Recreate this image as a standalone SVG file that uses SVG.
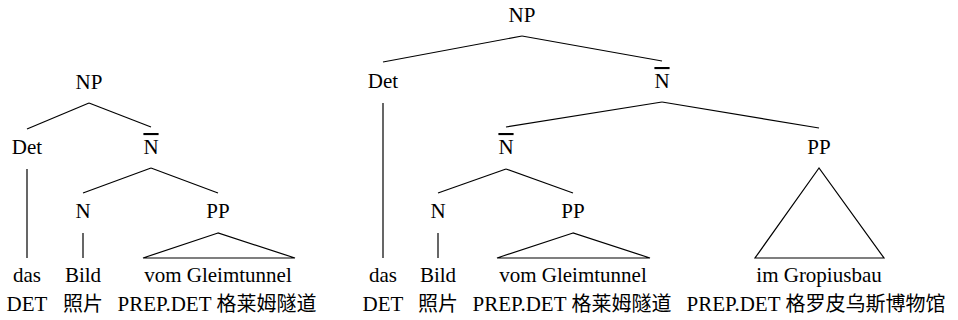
<svg xmlns="http://www.w3.org/2000/svg" width="958" height="320" viewBox="0 0 958 320">
<style>
text{font-family:"Liberation Serif","Times New Roman","DejaVu Serif",serif;font-size:21px;fill:#000;text-anchor:middle}
.cjk{font-family:"Noto Sans CJK SC","Noto Sans CJK JP",sans-serif;font-size:20px}
.bar{text-decoration:overline}
.e line,.e path{stroke:#000;stroke-width:1.2;fill:none}
</style>
<rect width="958" height="320" fill="#fff"/>
<g class="e" id="connectors">
<line x1="89" y1="103" x2="27" y2="129"/>
<line x1="89" y1="103" x2="151" y2="127"/>
<line x1="27" y1="169" x2="27" y2="258"/>
<line x1="151" y1="168" x2="83" y2="193"/>
<line x1="151" y1="168" x2="218" y2="193"/>
<line x1="83" y1="233" x2="83" y2="258"/>
<path d="M218 233 L143 258 L295 258 Z"/>
<line x1="522" y1="36" x2="383" y2="62"/>
<line x1="522" y1="36" x2="662" y2="61"/>
<line x1="383" y1="103" x2="383" y2="258"/>
<line x1="662" y1="102" x2="506" y2="127"/>
<line x1="662" y1="102" x2="819" y2="128"/>
<line x1="506" y1="169" x2="438" y2="193"/>
<line x1="506" y1="169" x2="573" y2="193"/>
<line x1="438" y1="233" x2="438" y2="258"/>
<path d="M573 233 L497 258 L650 258 Z"/>
<path d="M819 168 L755 258 L884 258 Z"/>
</g>
<g id="l-np"><text x="89" y="89">NP</text></g>
<g id="l-det"><text x="27" y="154">Det</text></g>
<g id="l-nbar"><text class="bar" x="151" y="154">N</text></g>
<g id="l-n"><text x="83" y="218">N</text></g>
<g id="l-pp"><text x="218" y="218">PP</text></g>
<g id="l-das"><text x="27" y="282">das</text><text x="27" y="311">DET</text></g>
<g id="l-bild"><text x="83" y="282">Bild</text><text class="cjk" x="83" y="311">照片</text></g>
<g id="l-vom"><text x="218" y="282">vom Gleimtunnel</text><text x="217" y="311">PREP.DET <tspan class="cjk">格莱姆隧道</tspan></text></g>
<g id="r-np"><text x="522" y="22">NP</text></g>
<g id="r-det"><text x="383" y="88">Det</text></g>
<g id="r-nbar"><text class="bar" x="662" y="88">N</text></g>
<g id="r-nbar2"><text class="bar" x="506" y="154">N</text></g>
<g id="r-pp"><text x="819" y="154">PP</text></g>
<g id="r-n"><text x="438" y="218">N</text></g>
<g id="r-pp2"><text x="573" y="218">PP</text></g>
<g id="r-das"><text x="383" y="282">das</text><text x="383" y="311">DET</text></g>
<g id="r-bild"><text x="438" y="282">Bild</text><text class="cjk" x="438" y="311">照片</text></g>
<g id="r-vom"><text x="573" y="282">vom Gleimtunnel</text><text x="572" y="311">PREP.DET <tspan class="cjk">格莱姆隧道</tspan></text></g>
<g id="r-im"><text x="819" y="282">im Gropiusbau</text><text x="816" y="311">PREP.DET <tspan class="cjk">格罗皮乌斯博物馆</tspan></text></g>
</svg>
